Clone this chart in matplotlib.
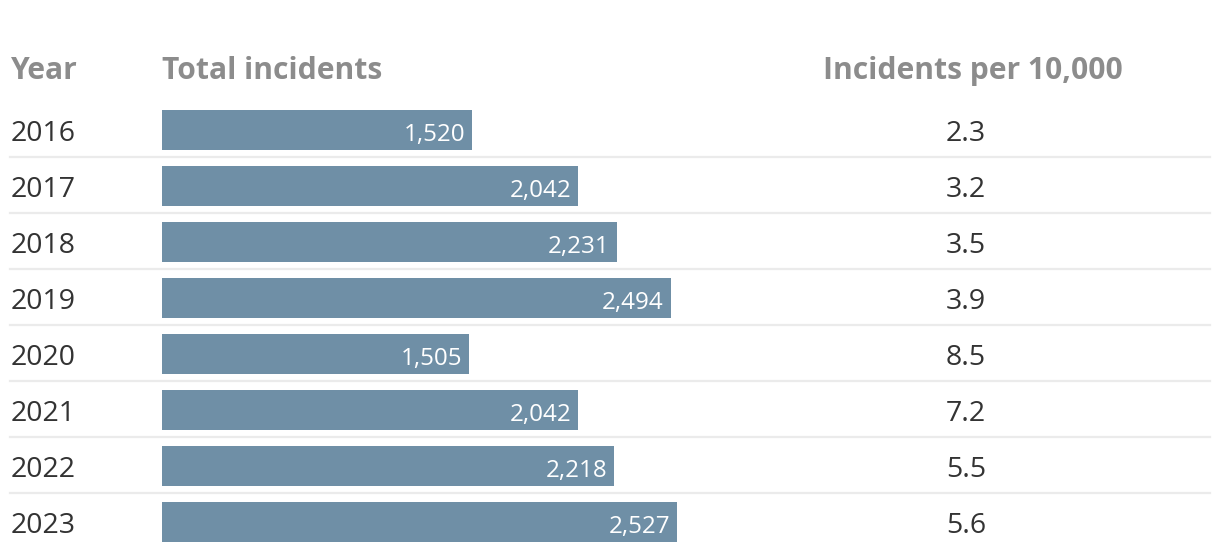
import matplotlib
matplotlib.use("Agg")
import matplotlib.pyplot as plt
from matplotlib.transforms import blended_transform_factory

years = ["2016", "2017", "2018", "2019", "2020", "2021", "2022", "2023"]
total_incidents = [1520, 2042, 2231, 2494, 1505, 2042, 2218, 2527]
per_10000 = [2.3, 3.2, 3.5, 3.9, 8.5, 7.2, 5.5, 5.6]
headers = ["Year", "Total incidents", "Incidents per 10,000"]

W, H = 1220, 558
DPI = 100
FONT = ["Open Sans", "DejaVu Sans"]
plt.rcParams["font.family"] = FONT

fig = plt.figure(figsize=(W / DPI, H / DPI), dpi=DPI)
bar_left_px = 162
px_per_unit = 0.2039
row_px = 56
first_center_px = 130

ax = fig.add_axes([bar_left_px / W, 0, 1 - bar_left_px / W, 1])
ax.set_xlim(0, (W - bar_left_px) / px_per_unit)
ax.set_ylim((H - first_center_px) / row_px, -first_center_px / row_px)
ax.axis("off")

bar_color = "#6f8fa6"
idx = list(range(len(years)))
ax.barh(idx, total_incidents, height=0.705, color=bar_color, left=0)

pad_units = 7 / px_per_unit
for i, v in zip(idx, total_incidents):
    ax.text(v - pad_units, i + 0.195, f"{v:,}", ha="right", va="baseline",
            color="white", fontsize=17.4)

# separators
sep_tr = ax.get_yaxis_transform()
x0 = (10 - bar_left_px) / (W - bar_left_px)
x1 = (1210 - bar_left_px) / (W - bar_left_px)
for i in idx[:-1]:
    ax.plot([x0, x1], [i + 0.482, i + 0.482], transform=sep_tr, color="#ebebeb",
            lw=1.6, clip_on=False, zorder=0)

ftr = blended_transform_factory(fig.transFigure, ax.transData)
for i, (y, r) in enumerate(zip(years, per_10000)):
    fig.text(11 / W, i + 0.205, y, transform=ftr, ha="left", va="baseline",
             color="#333333", fontsize=20.5)
    fig.text(966 / W, i + 0.205, f"{r:.1f}", transform=ftr, ha="center", va="baseline",
             color="#333333", fontsize=20.5)

hy = 1 - 79 / H
hc = "#8c8c8c"
fig.text(11 / W, hy, headers[0], ha="left", va="baseline", color=hc,
         fontsize=21.6, fontweight="bold")
fig.text(162 / W, hy, headers[1], ha="left", va="baseline", color=hc,
         fontsize=21.6, fontweight="bold")
fig.text(973 / W, hy, headers[2], ha="center", va="baseline", color=hc,
         fontsize=21.6, fontweight="bold")

fig.savefig("out.png", dpi=DPI)
